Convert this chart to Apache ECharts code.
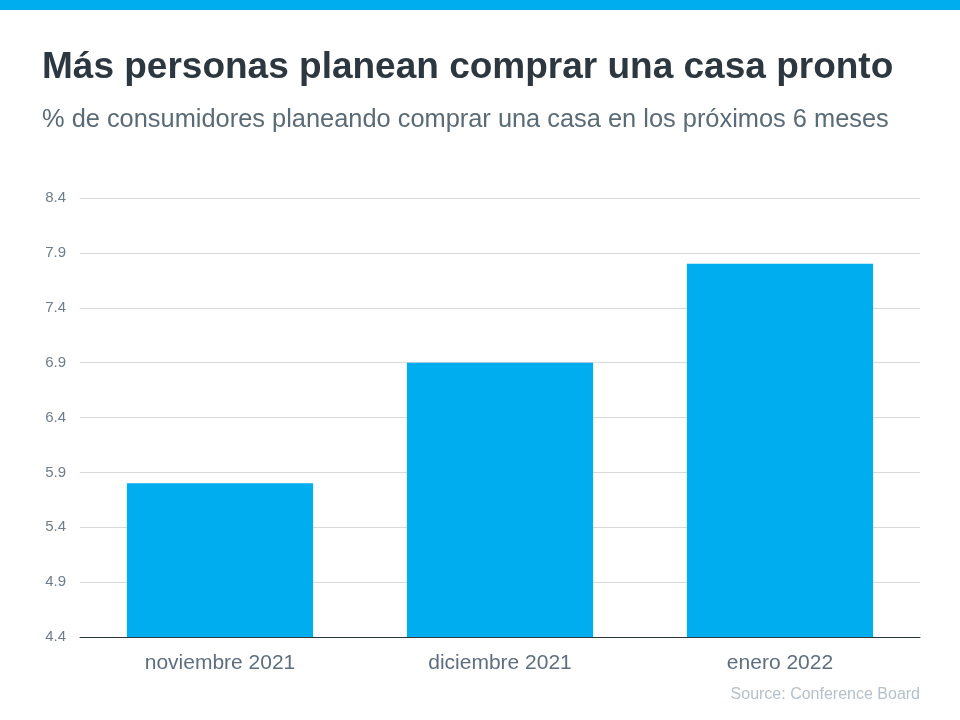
<!DOCTYPE html>
<html><head><meta charset="utf-8">
<script src="https://cdn.jsdelivr.net/npm/echarts@6/dist/echarts.min.js"></script>
<style>html,body{margin:0;padding:0;background:#fff}#c{width:960px;height:720px}</style>
</head><body><div id="c"></div>
<script>
const categories = ['noviembre 2021', 'diciembre 2021', 'enero 2022'];
const values = [5.8, 6.9, 7.8];
const yTicks = [4.4, 4.9, 5.4, 5.9, 6.4, 6.9, 7.4, 7.9, 8.4];

const FONT = '"Liberation Sans", Arial, sans-serif';
const chart = echarts.init(document.getElementById('c'));
chart.setOption({
  backgroundColor: '#fff',
  animation: false,
  graphic: [{type: 'rect', left: 0, top: 0, shape: {width: 960, height: 10}, style: {fill: '#00aeef'}}],
  title: [
    {text: 'Más personas planean comprar una casa pronto', left: 37, top: 44,
     textStyle: {fontFamily: FONT, fontSize: 37, fontWeight: 'bold', color: '#2d3740'}},
    {text: '% de consumidores planeando comprar una casa en los próximos 6 meses', left: 37, top: 102,
     textStyle: {fontFamily: FONT, fontSize: 25.4, fontWeight: 'normal', color: '#5b6b75'}},
    {text: 'Source: Conference Board', right: 35, top: 682,
     textStyle: {fontFamily: FONT, fontSize: 16, fontWeight: 'normal', color: '#b5c0c8'}}
  ],
  grid: {left: 80, right: 40, top: 198, bottom: 83, containLabel: false},
  xAxis: {
    type: 'category', data: categories,
    axisLine: {lineStyle: {color: '#2d3740', width: 1}},
    axisTick: {show: false},
    axisLabel: {fontFamily: FONT, fontSize: 21, color: '#5e6e7e', margin: 16}
  },
  yAxis: {
    type: 'value', min: yTicks[0], max: yTicks[yTicks.length - 1], interval: 0.5,
    axisLine: {show: false}, axisTick: {show: false},
    splitLine: {lineStyle: {color: '#d9d9d9', width: 1}},
    axisLabel: {fontFamily: FONT, fontSize: 15, color: '#6e7d8b', margin: 14,
      formatter: v => (Math.round(v * 10) / 10).toFixed(1)}
  },
  series: [{
    type: 'bar', data: values, barWidth: '66.5%',
    itemStyle: {color: '#00adef'}
  }]
});
</script></body></html>
